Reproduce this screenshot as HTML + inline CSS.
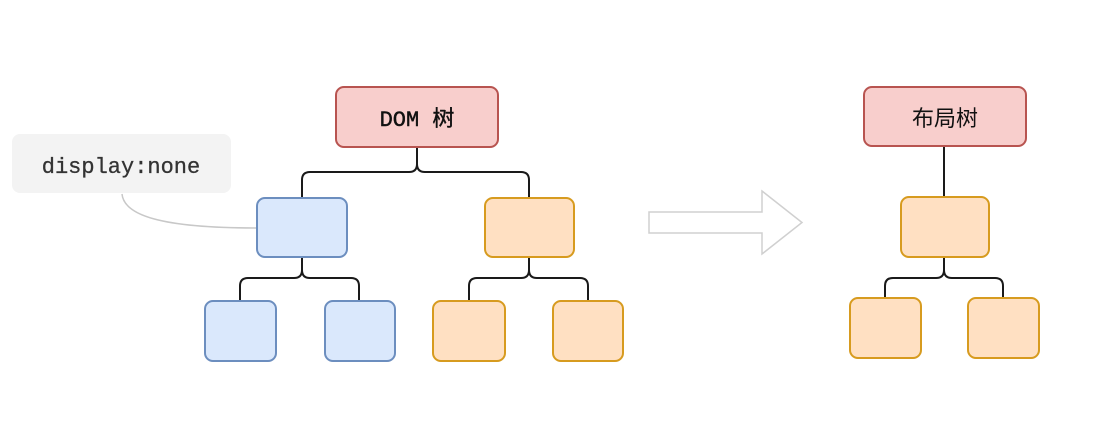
<!DOCTYPE html>
<html><head><meta charset="utf-8"><style>
html,body{margin:0;padding:0;background:#fff;}
svg{display:block}
</style></head><body>
<svg width="1104" height="442" viewBox="0 0 1104 442" xmlns="http://www.w3.org/2000/svg">
<rect x="0" y="0" width="1104" height="442" fill="#fff"/>
<rect x="12" y="134" width="219" height="59" rx="8" fill="#f3f3f3"/>
<text x="121" y="173" text-anchor="middle" font-family="Liberation Mono, monospace" font-size="22" fill="#333" stroke="#333" stroke-width="0.3">display:none</text>
<path d="M122 194 C 124 215, 160 228, 257 228" fill="none" stroke="#c8c8c8" stroke-width="1.5"/>
<g fill="none" stroke="#1a1a1a" stroke-width="2">
<path d="M417 147 V164 Q417 172 409 172 H310 Q302 172 302 180 V198"/>
<path d="M417 147 V164 Q417 172 425 172 H521 Q529 172 529 180 V198"/>
<path d="M302 257 V270 Q302 278 294 278 H248 Q240 278 240 286 V301"/>
<path d="M302 257 V270 Q302 278 310 278 H351 Q359 278 359 286 V301"/>
<path d="M529 257 V270 Q529 278 521 278 H477 Q469 278 469 286 V301"/>
<path d="M529 257 V270 Q529 278 537 278 H580 Q588 278 588 286 V301"/>
<path d="M944 147 V197"/>
<path d="M944 257 V270 Q944 278 936 278 H893 Q885 278 885 286 V298"/>
<path d="M944 257 V270 Q944 278 952 278 H995 Q1003 278 1003 286 V298"/>
</g>
<rect x="336" y="87" width="162" height="60" rx="8" fill="#f8cecc" stroke="#b85450" stroke-width="2"/>
<text x="417" y="126" text-anchor="middle" font-family="Liberation Mono, 'Noto Sans CJK SC', monospace" font-size="22" fill="#111" stroke="#111" stroke-width="0.4">DOM 树</text>
<g fill="#dae8fc" stroke="#6c8ebf" stroke-width="2">
<rect x="257" y="198" width="90" height="59" rx="8"/>
<rect x="205" y="301" width="71" height="60" rx="8"/>
<rect x="325" y="301" width="70" height="60" rx="8"/>
</g>
<g fill="#ffe0c2" stroke="#d79b1f" stroke-width="2">
<rect x="485" y="198" width="89" height="59" rx="8"/>
<rect x="433" y="301" width="72" height="60" rx="8"/>
<rect x="553" y="301" width="70" height="60" rx="8"/>
</g>
<path d="M649 212 H762 V191 L802 222.5 L762 254 V233 H649 Z" fill="#fff" stroke="#d0d0d0" stroke-width="1.5"/>
<rect x="864" y="87" width="162" height="59" rx="8" fill="#f8cecc" stroke="#b85450" stroke-width="2"/>
<text x="945" y="126" text-anchor="middle" font-family="'Noto Sans CJK SC', sans-serif" font-size="22" fill="#111">布局树</text>
<g fill="#ffe0c2" stroke="#d79b1f" stroke-width="2">
<rect x="901" y="197" width="88" height="60" rx="8"/>
<rect x="850" y="298" width="71" height="60" rx="8"/>
<rect x="968" y="298" width="71" height="60" rx="8"/>
</g>
</svg>
</body></html>
